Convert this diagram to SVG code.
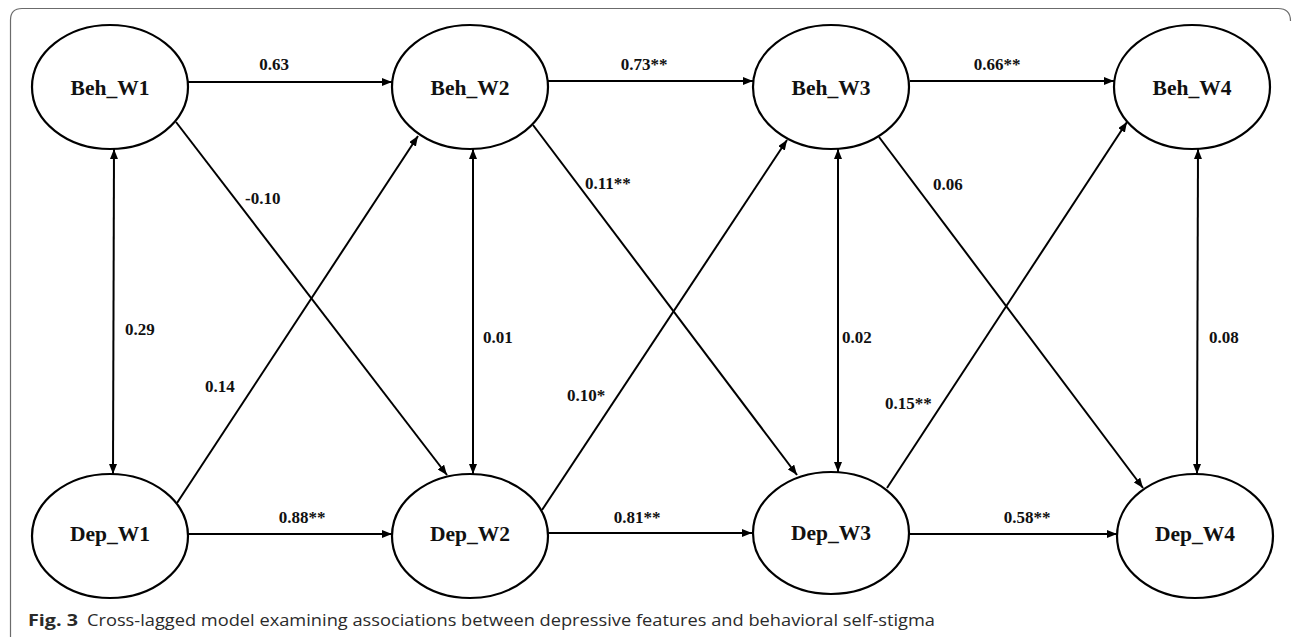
<svg xmlns="http://www.w3.org/2000/svg" width="1292" height="639" viewBox="0 0 1292 639">
<defs>
<marker id="ah" viewBox="0 0 10 8" refX="10" refY="4" markerWidth="10" markerHeight="8" markerUnits="userSpaceOnUse" orient="auto-start-reverse">
<path d="M0,0 L10,4 L0,8 Z" fill="#000"/>
</marker>
<style>
.node ellipse{fill:#fff;stroke:#000;stroke-width:2.2}
.node text{font-family:"Liberation Serif","Times New Roman",serif;font-weight:bold;font-size:21.5px;text-anchor:middle;fill:#111}
.conn line{stroke:#000;stroke-width:2}
.lbl{font-family:"Liberation Serif","Times New Roman",serif;font-weight:bold;font-size:17px;fill:#111}
.cap{font-family:"Open Sans","Noto Sans",sans-serif;font-size:16px;fill:#2a2a2a}
</style>
</defs>
<rect width="1292" height="639" fill="#fff"/>
<path d="M10.5,637 L10.5,20 Q10.5,8.5 22,8.5 L1278,8.5 Q1290.5,8.5 1290.5,21" fill="none" stroke="#6b6b6b" stroke-width="1.2"/>

<g id="connectors" class="conn">
<line x1="188" y1="82" x2="392" y2="82" marker-end="url(#ah)"/>
<line x1="548" y1="81" x2="753" y2="81" marker-end="url(#ah)"/>
<line x1="910" y1="81" x2="1114" y2="81" marker-end="url(#ah)"/>
<line x1="188" y1="534" x2="392" y2="534" marker-end="url(#ah)"/>
<line x1="548" y1="533" x2="752" y2="533" marker-end="url(#ah)"/>
<line x1="910" y1="534" x2="1117" y2="534" marker-end="url(#ah)"/>
<line x1="114" y1="149" x2="113" y2="474" marker-start="url(#ah)" marker-end="url(#ah)"/>
<line x1="473" y1="149" x2="473" y2="474" marker-start="url(#ah)" marker-end="url(#ah)"/>
<line x1="838" y1="149" x2="838" y2="472" marker-start="url(#ah)" marker-end="url(#ah)"/>
<line x1="1198" y1="149" x2="1197" y2="474" marker-start="url(#ah)" marker-end="url(#ah)"/>
<line x1="176" y1="122" x2="447" y2="475" marker-end="url(#ah)"/>
<line x1="177" y1="503" x2="418" y2="136" marker-end="url(#ah)"/>
<line x1="533" y1="125" x2="797" y2="475" marker-end="url(#ah)"/>
<line x1="542" y1="510" x2="787" y2="140" marker-end="url(#ah)"/>
<line x1="879" y1="137" x2="1143" y2="488" marker-end="url(#ah)"/>
<line x1="887" y1="488" x2="1127" y2="122" marker-end="url(#ah)"/>
</g>

<g id="labels">
<text class="lbl" x="274" y="70" text-anchor="middle">0.63</text>
<text class="lbl" x="644" y="70" text-anchor="middle">0.73**</text>
<text class="lbl" x="997" y="70" text-anchor="middle">0.66**</text>
<text class="lbl" x="302" y="523" text-anchor="middle">0.88**</text>
<text class="lbl" x="637" y="523" text-anchor="middle">0.81**</text>
<text class="lbl" x="1027" y="523" text-anchor="middle">0.58**</text>
<text class="lbl" x="245" y="204">-0.10</text>
<text class="lbl" x="585" y="189">0.11**</text>
<text class="lbl" x="933" y="190">0.06</text>
<text class="lbl" x="125" y="335">0.29</text>
<text class="lbl" x="483" y="343">0.01</text>
<text class="lbl" x="842" y="343">0.02</text>
<text class="lbl" x="1209" y="343">0.08</text>
<text class="lbl" x="205" y="392">0.14</text>
<text class="lbl" x="567" y="401">0.10*</text>
<text class="lbl" x="885" y="409">0.15**</text>
</g>

<g id="Beh_W1" class="node"><ellipse cx="110" cy="87" rx="78" ry="62"/><text x="110" y="95">Beh_W1</text></g>
<g id="Beh_W2" class="node"><ellipse cx="470" cy="87" rx="78" ry="62"/><text x="470" y="95">Beh_W2</text></g>
<g id="Beh_W3" class="node"><ellipse cx="831" cy="87" rx="78" ry="62"/><text x="831" y="95">Beh_W3</text></g>
<g id="Beh_W4" class="node"><ellipse cx="1192" cy="87" rx="78" ry="62"/><text x="1192" y="95">Beh_W4</text></g>
<g id="Dep_W1" class="node"><ellipse cx="110" cy="536" rx="78" ry="62"/><text x="110" y="541">Dep_W1</text></g>
<g id="Dep_W2" class="node"><ellipse cx="470" cy="536" rx="78" ry="62"/><text x="470" y="541">Dep_W2</text></g>
<g id="Dep_W3" class="node"><ellipse cx="831" cy="533" rx="78" ry="61"/><text x="831" y="540">Dep_W3</text></g>
<g id="Dep_W4" class="node"><ellipse cx="1195" cy="536" rx="78" ry="62"/><text x="1195" y="541">Dep_W4</text></g>

<g id="caption">
<text class="cap" x="28" y="626" font-weight="bold" textLength="50" lengthAdjust="spacingAndGlyphs">Fig. 3</text>
<text class="cap" x="87" y="626" textLength="848" lengthAdjust="spacingAndGlyphs">Cross-lagged model examining associations between depressive features and behavioral self-stigma</text>
</g>
</svg>
